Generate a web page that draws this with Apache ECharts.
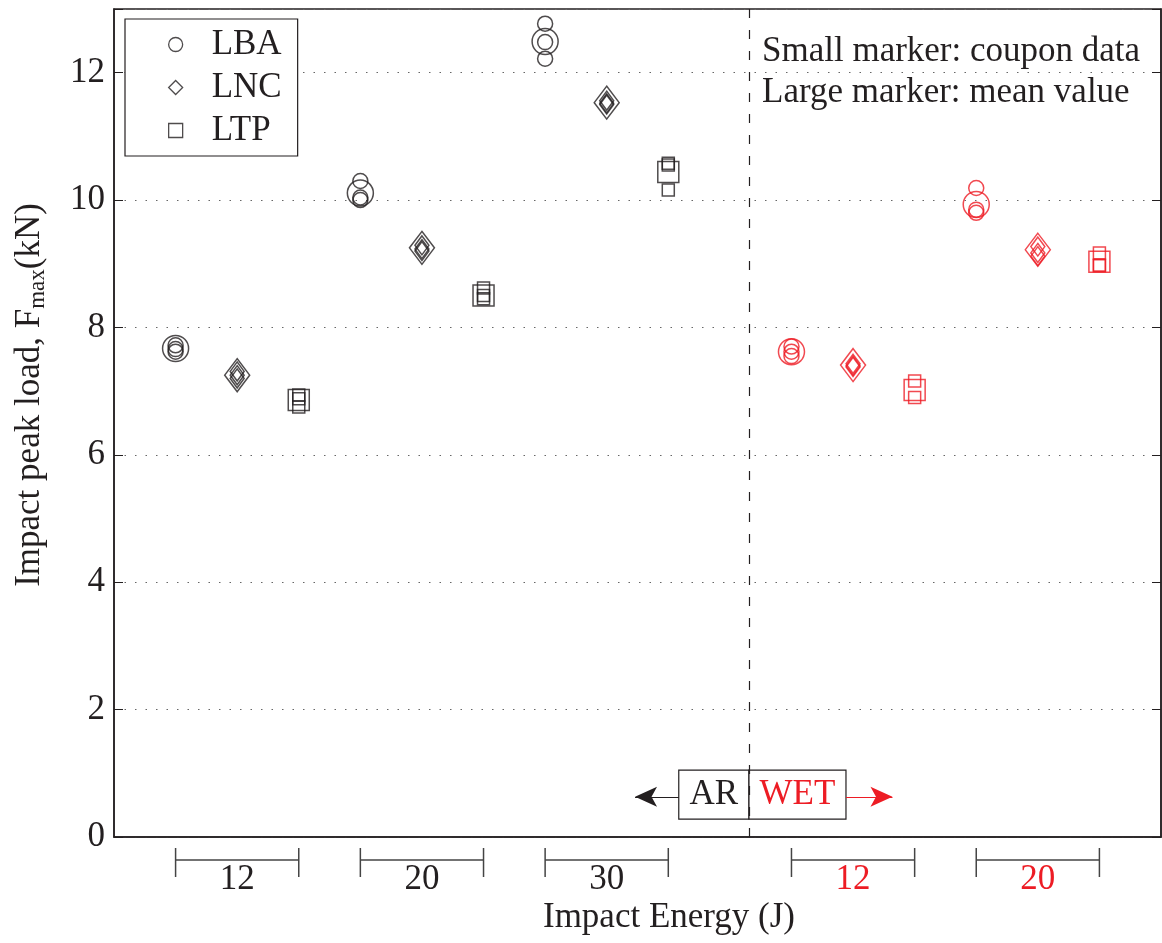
<!DOCTYPE html>
<html>
<head>
<meta charset="utf-8">
<script src="https://cdn.jsdelivr.net/npm/echarts@6/dist/echarts.min.js"></script>
<style>
html, body { margin: 0; padding: 0; background: #fff; }
#main { width: 1162px; height: 943px; }
</style>
</head>
<body>
<div id="main"></div>
<script>
// impact groups, left to right
var groupLabels = ['12', '20', '30', '12', '20'];
var groupCond = ['AR', 'AR', 'AR', 'WET', 'WET'];
var groupSlot = [1, 4, 7, 11, 14];   // x slot of first material in each group
var materials = ['LBA', 'LNC', 'LTP'];
var yTicks = [0, 2, 4, 6, 8, 10, 12];

// coupon data (kN), one list per group
var lbaCoupon = [[7.72, 7.66, 7.62], [10.30, 10.04, 10.00], [12.77, 12.22, 12.48], [7.70, 7.55, 7.62], [10.19, 9.85, 9.80]];
var lncCoupon = [[7.31, 7.25, 7.20], [9.29, 9.23, 9.20], [11.56, 11.50, 11.52], [7.43, 7.40, 7.38], [9.27, 9.17, 9.12]];
var ltpCoupon = [[6.94, 6.88, 6.75], [8.62, 8.45, 8.50], [10.58, 10.16, 10.55], [7.16, 6.90], [9.17, 8.97, 8.98]];
// mean values (kN)
var lbaMean = [7.67, 10.11, 12.49, 7.62, 9.93];
var lncMean = [7.25, 9.25, 11.53, 7.41, 9.22];
var ltpMean = [6.86, 8.50, 10.44, 7.02, 9.03];

var coupons = [lbaCoupon, lncCoupon, ltpCoupon];
var means = [lbaMean, lncMean, ltpMean];

var BLACK = '#231f20';
var RED = '#ed1c24';
var FONT = 'Liberation Serif';
var FS = 35;
var condColor = { AR: BLACK, WET: RED };
var symbols = ['circle', 'diamond', 'rect'];
var smallSize = [15, [14, 19], 12];
var largeSize = [26, [25, 33], 21];
var splitX = 10.31;

var series = [];
materials.forEach(function (m, k) {
    ['AR', 'WET'].forEach(function (c) {
        var small = [], big = [];
        groupCond.forEach(function (gc, g) {
            if (gc !== c) return;
            coupons[k][g].forEach(function (v) {
                small.push([groupSlot[g] + k, v]);
            });
            big.push([groupSlot[g] + k, means[k][g]]);
        });
        var style = { color: 'rgba(0,0,0,0)', borderColor: condColor[c], borderWidth: 1.5 };
        series.push({
            name: c === 'AR' ? m : m + ' wet',
            type: 'scatter',
            symbol: symbols[k],
            symbolSize: smallSize[k],
            itemStyle: style,
            data: small,
            z: 3
        });
        series.push({
            name: m + ' mean ' + c,
            type: 'scatter',
            symbol: symbols[k],
            symbolSize: largeSize[k],
            itemStyle: style,
            data: big,
            z: 3
        });
    });
});

// AR / WET marker box, arrows and dividing line
series[0].markArea = {
    silent: true,
    itemStyle: { color: '#fff', borderColor: BLACK, borderWidth: 1.2 },
    label: { show: true, position: 'inside', fontFamily: FONT, fontSize: FS },
    data: [
        [{ name: 'AR', xAxis: 9.17, yAxis: 1.05, label: { color: BLACK } }, { xAxis: splitX, yAxis: 0.28 }],
        [{ name: 'WET', xAxis: splitX, yAxis: 1.05, label: { color: RED } }, { xAxis: 11.885, yAxis: 0.28 }]
    ]
};
series[0].markLine = {
    silent: true,
    symbol: ['none', 'arrow'],
    symbolSize: [15, 22],
    label: { show: false },
    lineStyle: { color: BLACK, width: 1.2, type: 'solid' },
    data: [
        [{ coord: [9.17, 0.63] }, { coord: [8.46, 0.63] }],
        [{ coord: [11.885, 0.63], lineStyle: { color: RED } }, { coord: [12.64, 0.63] }]
    ]
};
series[2].markLine = {
    silent: true,
    symbol: ['none', 'none'],
    label: { show: false },
    lineStyle: { color: BLACK, width: 1.2, type: [9, 12] },
    data: [{ xAxis: splitX }]
};

var option = {
    animation: false,
    grid: { left: 114, right: 1, top: 9, bottom: 106, show: true, borderColor: BLACK, borderWidth: 1.5 },
    legend: {
        orient: 'vertical',
        left: 125,
        top: 19,
        padding: [8, 16, 8, 43],
        itemGap: 8,
        itemWidth: 14,
        itemHeight: 14,
        borderColor: BLACK,
        borderWidth: 1.2,
        backgroundColor: '#fff',
        textStyle: { fontFamily: FONT, fontSize: FS, color: BLACK, padding: [0, 0, 0, 24] },
        data: materials.map(function (m, k) {
            return {
                name: m,
                icon: symbols[k],
                itemStyle: { color: 'rgba(0,0,0,0)', borderColor: BLACK, borderWidth: 1.3 }
            };
        })
    },
    xAxis: {
        type: 'value',
        min: 0,
        max: 17,
        axisLine: { show: true, lineStyle: { color: BLACK, width: 1.5 } },
        axisTick: { show: false },
        axisLabel: { show: false },
        splitLine: { show: false }
    },
    yAxis: [{
        type: 'value',
        min: 0,
        max: 13,
        interval: 2,
        axisLine: { show: true, lineStyle: { color: BLACK, width: 1.5 } },
        axisTick: { show: true, inside: true, length: 9, lineStyle: { color: BLACK } },
        axisLabel: {
            fontFamily: FONT, fontSize: FS, color: BLACK, margin: 9,
            formatter: function (v) { return yTicks.indexOf(v) >= 0 ? String(v) : ''; }
        },
        splitLine: { show: true, lineStyle: { color: '#666', width: 1, type: [1.5, 9] } }
    }, {
        type: 'value',
        position: 'right',
        min: 0,
        max: 13,
        interval: 2,
        axisLine: { show: true, lineStyle: { color: BLACK, width: 1.5 } },
        axisTick: { show: true, inside: true, length: 9, lineStyle: { color: BLACK } },
        axisLabel: { show: false },
        splitLine: { show: false }
    }],
    series: series
};

var chart = echarts.init(document.getElementById('main'));
chart.setOption(option);

// group brackets under the axis
var gfx = [];
groupSlot.forEach(function (s, g) {
    var x0 = chart.convertToPixel({ xAxisIndex: 0 }, s);
    var x1 = chart.convertToPixel({ xAxisIndex: 0 }, s + 2);
    var ls = { stroke: '#444', lineWidth: 1.5 };
    gfx.push({ type: 'line', shape: { x1: x0, y1: 860, x2: x1, y2: 860 }, style: ls, silent: true });
    gfx.push({ type: 'line', shape: { x1: x0, y1: 848, x2: x0, y2: 877 }, style: ls, silent: true });
    gfx.push({ type: 'line', shape: { x1: x1, y1: 848, x2: x1, y2: 877 }, style: ls, silent: true });
    gfx.push({
        type: 'text', x: (x0 + x1) / 2, y: 880, silent: true,
        style: { text: groupLabels[g], fontFamily: FONT, fontSize: FS, fill: condColor[groupCond[g]], align: 'center', verticalAlign: 'middle' }
    });
});
gfx.push({
    type: 'text', x: 669, y: 918, silent: true,
    style: { text: 'Impact Energy (J)', fontFamily: FONT, fontSize: FS, fill: BLACK, align: 'center', verticalAlign: 'middle' }
});
gfx.push({
    type: 'text', x: 30, y: 395, rotation: Math.PI / 2, silent: true,
    style: {
        text: '{a|Impact peak load, F}{s|max}{a|(kN)}',
        align: 'center', verticalAlign: 'middle',
        rich: {
            a: { fontFamily: FONT, fontSize: FS, fill: BLACK, lineHeight: 35 },
            s: { fontFamily: FONT, fontSize: 23, fill: BLACK, lineHeight: 35, padding: [15, 0, 0, 0] }
        }
    }
});
gfx.push({
    type: 'text', x: 762, y: 52, silent: true,
    style: { text: 'Small marker: coupon data', fontFamily: FONT, fontSize: FS, fill: BLACK, align: 'left', verticalAlign: 'middle' }
});
gfx.push({
    type: 'text', x: 762, y: 93, silent: true,
    style: { text: 'Large marker: mean value', fontFamily: FONT, fontSize: FS, fill: BLACK, align: 'left', verticalAlign: 'middle' }
});
chart.setOption({ graphic: gfx });
</script>
</body>
</html>
